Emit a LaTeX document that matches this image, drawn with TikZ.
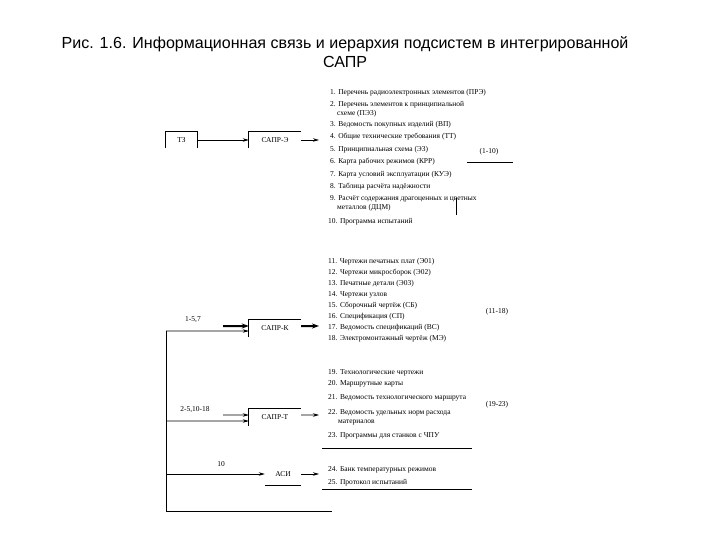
\documentclass[tikz,border=0pt]{standalone}
\usepackage{fontspec}
\setmainfont{Liberation Serif}
\newfontfamily\titlefont{Liberation Sans}
\usetikzlibrary{arrows.meta}

\begin{document}
\begin{tikzpicture}[x=1bp, y=-1bp, every node/.style={font=\fontsize{7.5}{9}\selectfont}]
        \tikzstyle{box}=[inner sep=0pt, minimum width=52bp, minimum height=16bp]
        \tikzstyle{item}=[anchor=west, inner sep=0pt, align=left]
        \tikzstyle{flow}=[-{Stealth[length=6bp,width=3.5bp]}, line width=0.8bp]
        \tikzstyle{boldflow}=[-{Stealth[length=7bp,width=5bp]}, line width=2bp]
        \useasboundingbox (0,0) rectangle (720,540);
        % title
        \node[font=\titlefont\fontsize{16.1}{19}\selectfont, align=center] (title) at (345,52)
          {Рис. 1.6. Информационная связь и иерархия подсистем в интегрированной\\САПР};
        % subsystems
        \node[box, minimum width=31bp] (tz) at (181.5,140) {ТЗ};
        \node[box] (sapre) at (275,140) {САПР-Э};
        \node[box, minimum height=17bp] (saprk) at (275,328.5) {САПР-К};
        \node[box, minimum height=17bp] (saprt) at (275,417.5) {САПР-Т};
        \node[box, minimum width=36bp, minimum height=22bp] (asi) at (283,474) {АСИ};
        \draw[line width=0.8bp] (tz.south west) -- (tz.north west) -- (tz.north east) -- (tz.south east);
        \draw[line width=0.8bp] (sapre.south west) -- (sapre.north west) -- (sapre.north east);
        \draw[line width=0.8bp] (saprk.south west) -- (saprk.north west) -- (saprk.north east);
        \draw[line width=0.8bp] (saprt.south west) -- (saprt.north west) -- (saprt.north east);
        \draw[line width=0.8bp] (asi.south west) -- (asi.south east);
        % bus
        \coordinate (bk) at (166,331);
        \coordinate (bt) at (166,421);
        \coordinate (ba) at (166,474);
        \coordinate (bb) at (166,511);
        \coordinate (be) at (332,511);
        \coordinate (ik) at (223,326);
        \coordinate (it) at (223,415);
        \draw[line width=0.8bp] (bk) -- (bb) -- (be);
        \draw[flow] (tz.east) -- (sapre.west);
        \draw[boldflow] (ik) -- ([yshift=2.5bp]saprk.west);
        \draw[flow] (bk) -- ([yshift=-2.5bp]saprk.west);
        \draw[flow] (it) -- ([yshift=2.5bp]saprt.west);
        \draw[flow] (bt) -- ([yshift=-3.5bp]saprt.west);
        \draw[flow] (ba) -- (asi.west);
        \node (lk) at (193,320) {1-5,7};
        \node (lt) at (195,410) {2-5,10-18};
        \node (la) at (221,464) {10};
        % outputs
        \coordinate (oe) at (319,140);
        \coordinate (ok) at (319,326);
        \coordinate (ot) at (319,415);
        \coordinate (oa) at (319,474);
        \draw[flow] (sapre.east) -- (oe);
        \draw[boldflow] ([yshift=2.5bp]saprk.east) -- (ok);
        \draw[flow] ([yshift=2.5bp]saprt.east) -- (ot);
        \draw[flow] (asi.east) -- (oa);
        % documents
        \node[item] (d1) at (330,93) {1. Перечень радиоэлектронных элементов (ПРЭ)};
        \node[item] (d2) at (330,109) {2. Перечень элементов к принципиальной\\\hspace{7bp}схеме (ПЭ3)};
        \node[item] (d3) at (330,125) {3. Ведомость покупных изделий (ВП)};
        \node[item] (d4) at (330,137) {4. Общие технические требования (ТТ)};
        \node[item] (d5) at (330,150) {5. Принципиальная схема (Э3)};
        \node[item] (d6) at (330,162) {6. Карта рабочих режимов (КРР)};
        \node[item] (d7) at (330,175) {7. Карта условий эксплуатации (КУЭ)};
        \node[item] (d8) at (330,187) {8. Таблица расчёта надёжности};
        \node[item] (d9) at (330,203.5) {9. Расчёт содержания драгоценных и цветных\\\hspace{7bp}металлов (ДЦМ)};
        \node[item] (d10) at (328,222) {10. Программа испытаний};
        \node[item] (d11) at (328,262) {11. Чертежи печатных плат (Э01)};
        \node[item] (d12) at (328,273) {12. Чертежи микросборок (Э02)};
        \node[item] (d13) at (328,284) {13. Печатные детали (Э03)};
        \node[item] (d14) at (328,295) {14. Чертежи узлов};
        \node[item] (d15) at (328,306) {15. Сборочный чертёж (СБ)};
        \node[item] (d16) at (328,317) {16. Спецификация (СП)};
        \node[item] (d17) at (328,328) {17. Ведомость спецификаций (ВС)};
        \node[item] (d18) at (328,339) {18. Электромонтажный чертёж (МЭ)};
        \node[item] (d19) at (328,373) {19. Технологические чертежи};
        \node[item] (d20) at (328,384) {20. Маршрутные карты};
        \node[item] (d21) at (328,398) {21. Ведомость технологического маршрута};
        \node[item] (d22) at (328,417.5) {22. Ведомость удельных норм расхода\\\hspace{10bp}материалов};
        \node[item] (d23) at (328,436) {23. Программы для станков с ЧПУ};
        \node[item] (d24) at (328,470) {24. Банк температурных режимов};
        \node[item] (d25) at (328,483) {25. Протокол испытаний};
        % groups
        \node (g1) at (489,152) {(1-10)};
        \node (g2) at (497,312) {(11-18)};
        \node (g3) at (497,405) {(19-23)};
        \draw[line width=0.8bp] (467,162) -- (513,162);
        \draw[line width=0.8bp] (456,198) -- (456,215);
        \draw[line width=0.8bp] (322,448) -- (472,448);
        \draw[line width=0.8bp] (322,489) -- (472,489);
      \end{tikzpicture}
\end{document}
